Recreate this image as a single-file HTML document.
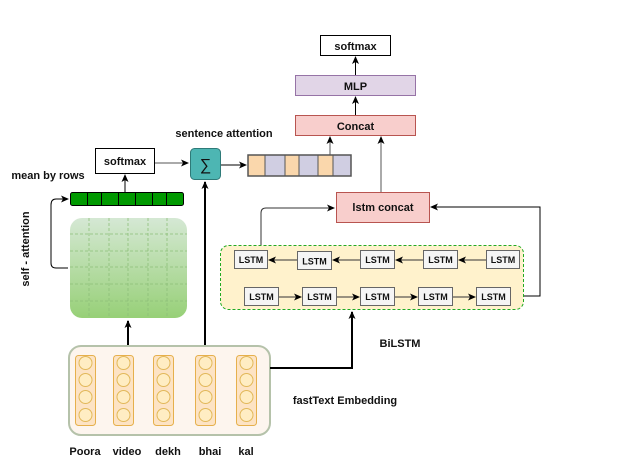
<!DOCTYPE html>
<html><head><meta charset="utf-8"><style>
html,body{margin:0;padding:0;background:#fff;}
svg{display:block;}
text{font-family:"Liberation Sans",Arial,sans-serif;font-weight:bold;fill:#111;}
</style></head><body>
<svg width="622" height="466" viewBox="0 0 622 466" xmlns="http://www.w3.org/2000/svg">
<defs>
<marker id="a" markerWidth="8" markerHeight="8" refX="7" refY="4" orient="auto" markerUnits="userSpaceOnUse"><path d="M0,0.5 L8,4 L0,7.5 L2,4 z" fill="#000"/></marker>
<linearGradient id="g" x1="0" y1="0" x2="0" y2="1"><stop offset="0" stop-color="#d5e8d4"/><stop offset="1" stop-color="#97d077"/></linearGradient>
</defs>
<!-- top stack -->
<rect x="320.5" y="35.5" width="70" height="20" fill="#fff" stroke="#000"/>
<text x="355.5" y="50" font-size="11" text-anchor="middle">softmax</text>
<rect x="295.5" y="75.5" width="120" height="20" fill="#e1d5e7" stroke="#9673a6"/>
<text x="355.5" y="90" font-size="11" text-anchor="middle">MLP</text>
<rect x="295.5" y="115.5" width="120" height="20" fill="#f8cecc" stroke="#b85450"/>
<text x="355.5" y="130" font-size="11" text-anchor="middle">Concat</text>
<line x1="355.5" y1="75" x2="355.5" y2="57" stroke="#000" marker-end="url(#a)"/>
<line x1="355.5" y1="115" x2="355.5" y2="97" stroke="#000" marker-end="url(#a)"/>
<line x1="330" y1="155" x2="330" y2="137" stroke="#555" marker-end="url(#a)"/>
<line x1="381" y1="192" x2="381" y2="137" stroke="#555" marker-end="url(#a)"/>
<!-- sentence attention -->
<text x="224" y="137" font-size="11" text-anchor="middle">sentence attention</text>
<rect x="95.5" y="148.5" width="59" height="25" fill="#fff" stroke="#000"/>
<text x="125" y="165" font-size="11" text-anchor="middle">softmax</text>
<line x1="155" y1="163" x2="188" y2="163" stroke="#555" marker-end="url(#a)"/>
<rect x="190.5" y="148.5" width="30" height="31" rx="4" fill="#4db6b3" stroke="#2e7a78"/>
<text x="205.5" y="170" font-size="16" font-weight="normal" text-anchor="middle" style="font-weight:normal">∑</text>
<line x1="221" y1="165" x2="246" y2="165" stroke="#000" marker-end="url(#a)"/>
<g stroke="#555">
<rect x="248" y="155" width="17" height="21" fill="#fad7ac"/>
<rect x="265" y="155" width="20" height="21" fill="#d0cee2"/>
<rect x="285" y="155" width="14" height="21" fill="#fad7ac"/>
<rect x="299" y="155" width="19" height="21" fill="#d0cee2"/>
<rect x="318" y="155" width="15" height="21" fill="#fad7ac"/>
<rect x="333" y="155" width="18" height="21" fill="#d0cee2"/>
</g>
<rect x="248" y="155" width="103" height="21" fill="none" stroke="#555" stroke-width="1.5"/>
<!-- mean by rows -->
<text x="48" y="179" font-size="11" text-anchor="middle">mean by rows</text>
<line x1="125" y1="192" x2="125" y2="175" stroke="#000" marker-end="url(#a)"/>
<rect x="70.5" y="192.5" width="113" height="13" rx="2" fill="#009900" stroke="#000"/>
<g stroke="#000"><line x1="87.5" y1="193" x2="87.5" y2="205"/><line x1="101.5" y1="193" x2="101.5" y2="205"/><line x1="118.5" y1="193" x2="118.5" y2="205"/><line x1="135.5" y1="193" x2="135.5" y2="205"/><line x1="152.5" y1="193" x2="152.5" y2="205"/><line x1="166.5" y1="193" x2="166.5" y2="205"/></g>
<!-- matrix -->
<rect x="70" y="218" width="117" height="100" rx="12" fill="url(#g)"/>
<g stroke="#8cbf78" stroke-dasharray="3,2" stroke-width="0.8">
<line x1="89" y1="218" x2="89" y2="318"/><line x1="109" y1="218" x2="109" y2="318"/><line x1="128" y1="218" x2="128" y2="318"/><line x1="148" y1="218" x2="148" y2="318"/><line x1="167" y1="218" x2="167" y2="318"/>
<line x1="70" y1="234" x2="187" y2="234"/><line x1="70" y1="251" x2="187" y2="251"/><line x1="70" y1="267" x2="187" y2="267"/><line x1="70" y1="284" x2="187" y2="284"/><line x1="70" y1="301" x2="187" y2="301"/>
</g>
<path d="M68,268 L56,268 Q51,268 51,263 L51,205 Q51,199 56,199 L68,199" fill="none" stroke="#000" marker-end="url(#a)"/>
<text transform="translate(29,249) rotate(-90)" font-size="11" text-anchor="middle">self - attention</text>
<!-- BiLSTM -->
<rect x="220.5" y="245.5" width="303" height="64" rx="8" fill="#fff2cc" stroke="#22aa22" stroke-dasharray="3,2"/>
<g font-size="9">
<g fill="#f5f5f5" stroke="#666">
<rect x="234.5" y="250.5" width="33" height="18"/><rect x="297.5" y="251.5" width="34" height="18"/><rect x="360.5" y="250.5" width="34" height="18"/><rect x="423.5" y="250.5" width="34" height="18"/><rect x="486.5" y="250.5" width="33" height="18"/>
<rect x="244.5" y="287.5" width="34" height="18"/><rect x="302.5" y="287.5" width="34" height="18"/><rect x="360.5" y="287.5" width="34" height="18"/><rect x="418.5" y="287.5" width="34" height="18"/><rect x="476.5" y="287.5" width="34" height="18"/>
</g>
<text x="251" y="263" text-anchor="middle">LSTM</text><text x="314.5" y="264.5" text-anchor="middle">LSTM</text><text x="377.5" y="263" text-anchor="middle">LSTM</text><text x="440.5" y="263" text-anchor="middle">LSTM</text><text x="503" y="263" text-anchor="middle">LSTM</text>
<text x="261.5" y="300" text-anchor="middle">LSTM</text><text x="319.5" y="300" text-anchor="middle">LSTM</text><text x="377.5" y="300" text-anchor="middle">LSTM</text><text x="435.5" y="300" text-anchor="middle">LSTM</text><text x="493.5" y="300" text-anchor="middle">LSTM</text>
</g>
<g stroke="#333">
<line x1="297" y1="260" x2="269" y2="260" marker-end="url(#a)"/><line x1="360" y1="260" x2="333" y2="260" marker-end="url(#a)"/><line x1="423" y1="260" x2="396" y2="260" marker-end="url(#a)"/><line x1="486" y1="260" x2="459" y2="260" marker-end="url(#a)"/>
<line x1="279" y1="297" x2="301" y2="297" marker-end="url(#a)"/><line x1="337" y1="297" x2="359" y2="297" marker-end="url(#a)"/><line x1="395" y1="297" x2="417" y2="297" marker-end="url(#a)"/><line x1="453" y1="297" x2="475" y2="297" marker-end="url(#a)"/>
</g>
<rect x="336.5" y="192.5" width="93" height="30" fill="#f8cecc" stroke="#b85450"/>
<text x="383" y="211" font-size="11" text-anchor="middle">lstm concat</text>
<path d="M261,245 L261,213 Q261,208 266,208 L334,208" fill="none" stroke="#333" marker-end="url(#a)"/>
<path d="M524,296 L540,296 L540,207 L431,207" fill="none" stroke="#000" marker-end="url(#a)"/>
<text x="400" y="347" font-size="11" text-anchor="middle">BiLSTM</text>
<!-- embedding -->
<rect x="69" y="346" width="201" height="89" rx="12" fill="#fdf5ee" stroke="#b5c2aa" stroke-width="2"/>
<g fill="#fde3c4" stroke="#e6b04c">
<rect x="75.5" y="355.5" width="20" height="70" rx="3"/><rect x="113.5" y="355.5" width="20" height="70" rx="3"/><rect x="153.5" y="355.5" width="20" height="70" rx="3"/><rect x="195.5" y="355.5" width="20" height="70" rx="3"/><rect x="236.5" y="355.5" width="20" height="70" rx="3"/>
</g>
<g fill="#ffedc3" stroke="#e2b85a">
<circle cx="85.5" cy="363" r="6.5"/><circle cx="85.5" cy="380" r="6.5"/><circle cx="85.5" cy="397" r="6.5"/><circle cx="85.5" cy="415" r="6.5"/>
<circle cx="123.5" cy="363" r="6.5"/><circle cx="123.5" cy="380" r="6.5"/><circle cx="123.5" cy="397" r="6.5"/><circle cx="123.5" cy="415" r="6.5"/>
<circle cx="163.5" cy="363" r="6.5"/><circle cx="163.5" cy="380" r="6.5"/><circle cx="163.5" cy="397" r="6.5"/><circle cx="163.5" cy="415" r="6.5"/>
<circle cx="205.5" cy="363" r="6.5"/><circle cx="205.5" cy="380" r="6.5"/><circle cx="205.5" cy="397" r="6.5"/><circle cx="205.5" cy="415" r="6.5"/>
<circle cx="246.5" cy="363" r="6.5"/><circle cx="246.5" cy="380" r="6.5"/><circle cx="246.5" cy="397" r="6.5"/><circle cx="246.5" cy="415" r="6.5"/>
</g>
<line x1="128" y1="345" x2="128" y2="321" stroke="#000" stroke-width="2" marker-end="url(#a)"/>
<line x1="205" y1="345" x2="205" y2="182" stroke="#000" stroke-width="2" marker-end="url(#a)"/>
<path d="M270,368 L352,368 L352,312" fill="none" stroke="#000" stroke-width="2" marker-end="url(#a)"/>
<text x="345" y="404" font-size="11" text-anchor="middle">fastText Embedding</text>
<g font-size="11" text-anchor="middle">
<text x="85" y="455">Poora</text><text x="127" y="455">video</text><text x="168" y="455">dekh</text><text x="210" y="455">bhai</text><text x="246" y="455">kal</text>
</g>
</svg>
</body></html>
